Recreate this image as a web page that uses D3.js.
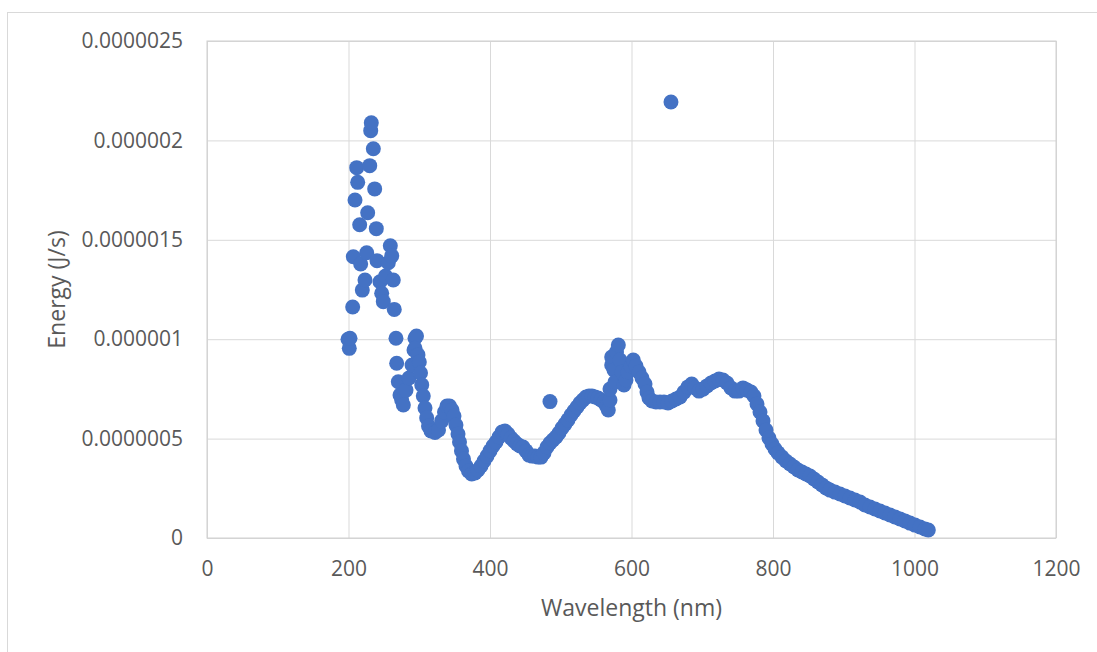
<!DOCTYPE html>
<html>
<head>
<meta charset="utf-8">
<script src="https://cdn.jsdelivr.net/npm/d3@7"></script>
<style>
  body { margin: 0; background: #fff; }
  text { font-family: "Open Sans", sans-serif; fill: #595959; }
</style>
<script>
// wavelength (nm)
const wavelength = [
  199.3, 201.1, 202.1, 205.9, 206.8, 209.2, 211.6, 213.0, 215.8, 217.2,
  219.5, 223.3, 225.7, 227.1, 230.0, 231.4, 232.2, 235.1, 237.0, 239.3,
  240.3, 244.5, 246.9, 249.2, 252.3, 256.3, 259.1, 261.1, 263.3, 264.7,
  267.1, 268.1, 270.4, 272.8, 275.2, 277.5, 281.3, 285.5, 289.8, 292.6,
  294.0, 296.1, 294.0, 298.2, 300.1, 301.8, 303.5, 305.7, 308.1, 310.5,
  313.1, 316.6, 322.3, 327.2, 331.7, 335.7, 339.2, 342.8, 346.3, 349.1,
  351.9, 354.8, 356.9, 359.7, 362.5, 366.1, 369.6, 374.1, 378.8, 383.0,
  387.3, 391.5, 395.8, 400.0, 404.2, 408.5, 412.7, 417.0, 421.2, 425.4,
  429.7, 433.9, 438.2, 442.4, 446.6, 450.9, 455.1, 459.4, 463.6, 467.8,
  472.1, 476.3, 480.6, 484.8, 489.0, 493.3, 497.5, 501.8, 506.0, 510.2,
  514.5, 518.7, 523.0, 527.2, 531.4, 535.7, 539.9, 544.2, 548.4, 552.7,
  556.9, 561.1, 564.7, 567.2, 569.6, 569.6, 572.0, 572.0, 575.3, 576.7,
  578.8, 581.4, 583.7, 586.6, 589.4, 592.2, 595.1, 599.3, 602.5, 606.4,
  610.6, 614.8, 619.1, 621.9, 624.7, 629.0, 634.6, 640.3, 645.9, 651.6,
  657.2, 662.9, 668.6, 674.2, 679.9, 685.1, 689.7, 695.4, 701.1, 706.7,
  712.4, 718.0, 723.7, 729.3, 735.0, 740.6, 746.3, 751.9, 757.6, 763.3,
  768.9, 773.1, 777.4, 781.6, 785.9, 790.1, 794.3, 798.6, 802.8, 807.1,
  812.7, 818.4, 824.0, 829.7, 835.3, 841.0, 846.6, 852.3, 857.9, 863.6,
  869.3, 874.9, 880.6, 887.6, 894.7, 901.8, 908.8, 915.9, 923.0, 930.0,
  937.1, 944.2, 951.2, 958.3, 965.4, 972.4, 979.5, 986.6, 993.6, 1000.7,
  1007.8, 1014.8, 1019.5,
  484.8, 655.8
];

// energy (J/s)
const energy = [
  10.0e-7, 9.54e-7, 10.05e-7, 11.62e-7, 14.15e-7, 17.0e-7, 18.63e-7, 17.89e-7, 15.76e-7, 13.78e-7,
  12.47e-7, 12.98e-7, 14.35e-7, 16.36e-7, 18.73e-7, 20.49e-7, 20.89e-7, 19.58e-7, 17.56e-7, 15.56e-7,
  13.95e-7, 12.89e-7, 12.31e-7, 11.89e-7, 13.18e-7, 13.85e-7, 14.70e-7, 14.19e-7, 12.98e-7, 11.50e-7,
  10.05e-7, 8.79e-7, 7.86e-7, 7.19e-7, 6.94e-7, 6.69e-7, 7.44e-7, 8.05e-7, 8.70e-7, 9.46e-7,
  10.05e-7, 10.16e-7, 9.54e-7, 9.21e-7, 8.85e-7, 8.30e-7, 7.70e-7, 7.14e-7, 6.54e-7, 6.04e-7,
  5.63e-7, 5.38e-7, 5.31e-7, 5.43e-7, 5.89e-7, 6.34e-7, 6.64e-7, 6.64e-7, 6.44e-7, 6.14e-7,
  5.68e-7, 5.23e-7, 4.83e-7, 4.38e-7, 3.97e-7, 3.62e-7, 3.37e-7, 3.22e-7, 3.27e-7, 3.42e-7,
  3.62e-7, 3.87e-7, 4.12e-7, 4.38e-7, 4.63e-7, 4.83e-7, 5.08e-7, 5.33e-7, 5.38e-7, 5.23e-7,
  5.03e-7, 4.88e-7, 4.73e-7, 4.63e-7, 4.58e-7, 4.38e-7, 4.17e-7, 4.12e-7, 4.12e-7, 4.07e-7,
  4.07e-7, 4.28e-7, 4.58e-7, 4.78e-7, 4.93e-7, 5.08e-7, 5.28e-7, 5.53e-7, 5.73e-7, 5.94e-7,
  6.19e-7, 6.39e-7, 6.59e-7, 6.79e-7, 6.94e-7, 7.09e-7, 7.14e-7, 7.14e-7, 7.09e-7, 7.04e-7,
  6.94e-7, 6.84e-7, 6.64e-7, 6.44e-7, 6.94e-7, 7.49e-7, 8.70e-7, 9.10e-7, 8.45e-7, 7.85e-7,
  9.36e-7, 9.71e-7, 8.95e-7, 8.35e-7, 7.70e-7, 7.95e-7, 8.35e-7, 8.65e-7, 8.95e-7, 8.65e-7,
  8.35e-7, 8.05e-7, 7.75e-7, 7.34e-7, 7.04e-7, 6.89e-7, 6.84e-7, 6.84e-7, 6.84e-7, 6.79e-7,
  6.89e-7, 6.99e-7, 7.09e-7, 7.34e-7, 7.60e-7, 7.75e-7, 7.55e-7, 7.39e-7, 7.49e-7, 7.65e-7,
  7.80e-7, 7.90e-7, 8.00e-7, 7.95e-7, 7.80e-7, 7.55e-7, 7.39e-7, 7.39e-7, 7.55e-7, 7.44e-7,
  7.34e-7, 7.14e-7, 6.74e-7, 6.34e-7, 5.89e-7, 5.43e-7, 5.03e-7, 4.73e-7, 4.48e-7, 4.28e-7,
  4.07e-7, 3.87e-7, 3.72e-7, 3.57e-7, 3.42e-7, 3.32e-7, 3.22e-7, 3.12e-7, 2.97e-7, 2.82e-7,
  2.67e-7, 2.52e-7, 2.41e-7, 2.31e-7, 2.21e-7, 2.11e-7, 2.01e-7, 1.91e-7, 1.81e-7, 1.66e-7,
  1.56e-7, 1.46e-7, 1.36e-7, 1.26e-7, 1.16e-7, 1.06e-7, 0.96e-7, 0.86e-7, 0.75e-7, 0.65e-7,
  0.55e-7, 0.45e-7, 0.40e-7,
  6.86e-7, 21.93e-7
];

const xTicks = [0, 200, 400, 600, 800, 1000, 1200];
const yTicks = [0, 0.0000005, 0.000001, 0.0000015, 0.000002, 0.0000025];
const yTickLabels = ['0', '0.0000005', '0.000001', '0.0000015', '0.000002', '0.0000025'];

const render = () => {
    const svg = d3.select('svg');
    const margin = { top: 41, right: 41, bottom: 114, left: 207 };
    const innerWidth = 1097 - margin.left - margin.right;
    const innerHeight = 652 - margin.top - margin.bottom;

    // chart frame (runs off the bottom/right like the original)
    svg.append('rect')
        .attr('x', 7.5).attr('y', 12.5)
        .attr('width', 1120).attr('height', 680)
        .attr('fill', '#fff')
        .attr('stroke', '#d9d9d9');

    const xScale = d3.scaleLinear().domain([0, 1200]).range([0, innerWidth]);
    const yScale = d3.scaleLinear().domain([0, 0.0000025]).range([innerHeight, 0]);

    const g = svg.append('g')
        .attr('transform', `translate(${margin.left},${margin.top})`);

    // gridlines
    const xGrid = g.append('g')
        .attr('transform', `translate(0,${innerHeight})`)
        .call(d3.axisBottom(xScale).tickValues(xTicks).tickSize(-innerHeight));
    const yGrid = g.append('g')
        .call(d3.axisLeft(yScale).tickValues(yTicks).tickSize(-innerWidth));
    [xGrid, yGrid].forEach(a => {
        a.select('.domain').remove();
        a.selectAll('text').remove();
        a.selectAll('line').attr('stroke', '#d9d9d9').attr('stroke-width', 1);
    });

    // plot area border
    g.append('rect')
        .attr('x', 0).attr('y', 0)
        .attr('width', innerWidth).attr('height', innerHeight)
        .attr('fill', 'none')
        .attr('stroke', '#d0d0d0');

    // tick labels
    const xAxisG = g.append('g')
        .attr('transform', `translate(0,${innerHeight})`)
        .call(d3.axisBottom(xScale).tickValues(xTicks).tickSize(0).tickPadding(23)
            .tickFormat(d3.format('d')));
    const yAxisG = g.append('g')
        .call(d3.axisLeft(yScale).tickValues(yTicks).tickSize(0).tickPadding(24)
            .tickFormat((d, i) => yTickLabels[i]));
    [xAxisG, yAxisG].forEach(a => {
        a.select('.domain').remove();
        a.selectAll('text')
            .style('font-family', '"Open Sans", sans-serif')
            .style('font-size', '21px')
            .attr('fill', '#595959');
    });

    // points
    g.selectAll('circle').data(wavelength)
        .enter().append('circle')
        .attr('cx', d => xScale(d))
        .attr('cy', (d, i) => yScale(energy[i]))
        .attr('r', 7.5)
        .attr('fill', '#4472c4');

    // axis titles
    g.append('text')
        .attr('x', innerWidth / 2)
        .attr('y', innerHeight + 78)
        .attr('text-anchor', 'middle')
        .style('font-size', '23px')
        .text('Wavelength (nm)');

    g.append('text')
        .attr('transform', `translate(${-142},${innerHeight / 2}) rotate(-90)`)
        .attr('text-anchor', 'middle')
        .style('font-size', '23px')
        .text('Energy (J/s)');
};

window.addEventListener('DOMContentLoaded', render);
</script>
</head>
<body>
<svg width="1097" height="652"></svg>
</body>
</html>
